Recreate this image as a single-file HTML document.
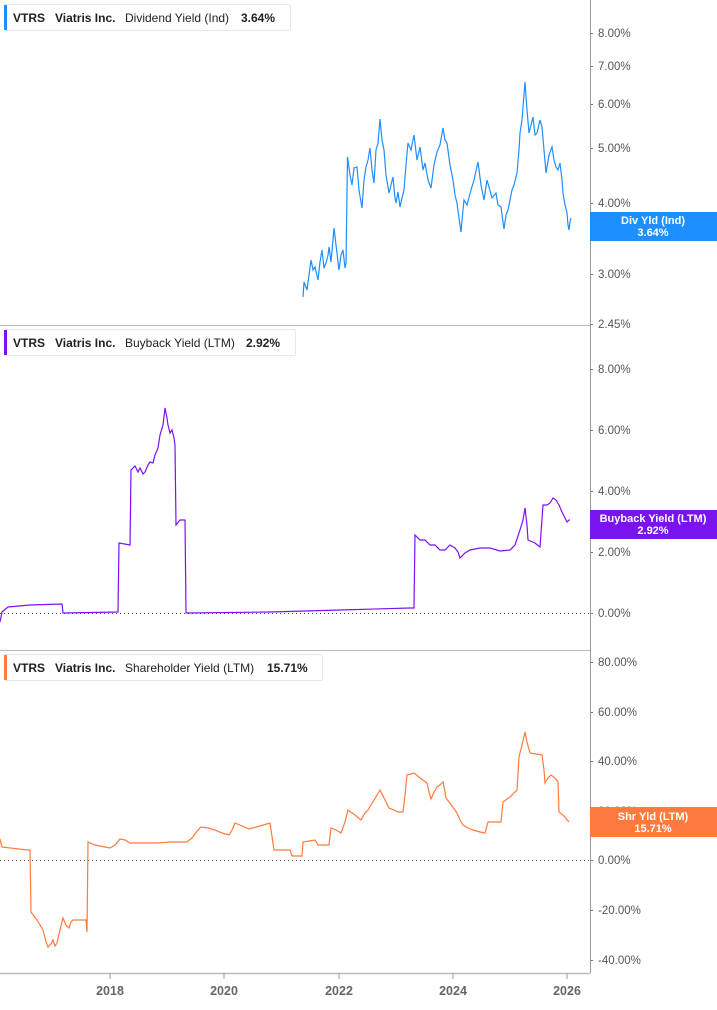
<!DOCTYPE html>
<html><head><meta charset="utf-8"><style>
body{margin:0;background:#fff;font-family:"Liberation Sans",sans-serif}
svg text{font-family:"Liberation Sans",sans-serif}
.t{font-size:11.5px;fill:#555}
.lg{font-size:12px;font-weight:bold;fill:#222}
.ln{font-size:12px;fill:#222}
</style></head><body>
<svg width="717" height="1005" viewBox="0 0 717 1005" xmlns="http://www.w3.org/2000/svg">
<rect width="717" height="1005" fill="#fff"/>
<line x1="590.5" y1="0" x2="590.5" y2="973" stroke="#999"/>
<line x1="0" y1="325.5" x2="590" y2="325.5" stroke="#bbb"/>
<line x1="0" y1="650.5" x2="590" y2="650.5" stroke="#bbb"/>
<line x1="0" y1="973.5" x2="590" y2="973.5" stroke="#bbb" stroke-width="1.5"/>
<line x1="0" y1="613.5" x2="590" y2="613.5" stroke="#555" stroke-dasharray="1,3"/>
<line x1="0" y1="860.5" x2="590" y2="860.5" stroke="#555" stroke-dasharray="1,3"/>
<g fill="#777">
<rect x="591" y="33" width="2" height="1"/><rect x="591" y="66" width="2" height="1"/><rect x="591" y="104" width="2" height="1"/><rect x="591" y="148" width="2" height="1"/><rect x="591" y="203" width="2" height="1"/><rect x="591" y="274" width="2" height="1"/><rect x="591" y="324" width="2" height="1"/>
<rect x="591" y="369" width="2" height="1"/><rect x="591" y="430" width="2" height="1"/><rect x="591" y="491" width="2" height="1"/><rect x="591" y="552" width="2" height="1"/><rect x="591" y="613" width="2" height="1"/>
<rect x="591" y="662" width="2" height="1"/><rect x="591" y="712" width="2" height="1"/><rect x="591" y="761" width="2" height="1"/><rect x="591" y="811" width="2" height="1"/><rect x="591" y="860" width="2" height="1"/><rect x="591" y="910" width="2" height="1"/><rect x="591" y="960" width="2" height="1"/>
</g>
<g class="t">
<text x="598" y="37">8.00%</text><text x="598" y="70">7.00%</text><text x="598" y="108">6.00%</text><text x="598" y="152">5.00%</text><text x="598" y="207">4.00%</text><text x="598" y="278">3.00%</text><text x="598" y="328">2.45%</text>
<text x="598" y="373">8.00%</text><text x="598" y="434">6.00%</text><text x="598" y="495">4.00%</text><text x="598" y="556">2.00%</text><text x="598" y="617">0.00%</text>
<text x="598" y="666">80.00%</text><text x="598" y="716">60.00%</text><text x="598" y="765">40.00%</text><text x="598" y="815">20.00%</text><text x="598" y="864">0.00%</text><text x="598" y="914">-20.00%</text><text x="598" y="964">-40.00%</text>
</g>
<g stroke="#999"><line x1="110" y1="973" x2="110" y2="979"/><line x1="224" y1="973" x2="224" y2="979"/><line x1="339" y1="973" x2="339" y2="979"/><line x1="453" y1="973" x2="453" y2="979"/><line x1="567" y1="973" x2="567" y2="979"/></g>
<g font-size="12.5" font-weight="bold" fill="#666" text-anchor="middle">
<text x="110" y="995">2018</text><text x="224" y="995">2020</text><text x="339" y="995">2022</text><text x="453" y="995">2024</text><text x="567" y="995">2026</text></g>
<polyline fill="none" stroke="#1e8fff" stroke-width="1.2" points="303,297 304,282 307,290 309,275 311,260 313,270 315,267 318,280 320,262 322,250 324,268 326,263 328,255 329,247 331,262 334,228 336,245 339,270 341,255 343,250 345,268 346,263 347.5,157 350,175 352,185 354,168 357,167 359,190 362,208 364,180 366,167 368,160 370,148 372,170 374,183 376,150 378,143 380,119 382,140 384,150 386,175 389,193 391,185 393,177 395,198 396,203 398,192 400,207 402,198 404,190 406,165 408,143 411,150 414,135 417,160 420,147 423,170 425,163 428,180 431,188 434,165 437,152 440,145 443,128 445,140 447,143 450,165 453,180 455,195 457,203 459,218 461,232 463,210 464,200 467,205 471,190 474,180 478,162 481,185 484,200 487,180 489,187 492,198 496,193 498,205 501,207 503,222 504,229 506,215 508,210 510,200 512,190 514,185 517,173 519,150 520,133 522,120 525,82 527,110 529,133 531,125 533,117 535,135 537,133 540,120 542,127 544,150 546,173 549,155 552,147 554,160 556,167 558,170 560,163 562,180 563,193 565,205 567,213 568,225 569,230 570,222 571,218"/>
<polyline fill="none" stroke="#7b12f0" stroke-width="1.2" points="0,622 2,612 8,607 30,605 62,604 63,613 118,612 119,543 130,545 131,470 135,466 138,472 140,468 143,474 145,472 148,465 150,462 153,463 155,455 158,448 160,435 163,425 165,408 167,418 168,425 170,433 172,430 174,438 175,445 176,525 180,520 185,520 186,613 270,612 340,610 410,608 414,608 415,535 420,540 425,540 430,545 435,545 440,550 445,550 450,545 455,548 458,552 460,558 465,553 470,550 480,548 490,548 500,551 510,550 515,545 520,530 523,520 525,508 527,525 528,540 535,543 540,547 543,505 547,505 550,503 553,498 556,500 559,505 562,512 565,518 567,522 569,520 570,520"/>
<polyline fill="none" stroke="#ff7a3c" stroke-width="1.2" points="0,839 2,847 27,850 30,850 31,912 37,920 40,925 43,930 46,942 48,947 51,944 53,940 55,946 57,943 60,930 63,918 66,925 69,928 71,922 73,920 86,920 87,932 88,842 95,845 110,848 115,845 120,839 125,840 130,843 145,843 158,843 170,842 187,842 192,838 198,830 201,827 208,828 215,830 222,833 229,835 232,830 235,823 242,826 249,829 260,826 270,823 274,850 290,850 292,856 302,856 303,842 315,840 318,845 329,845 331,828 336,830 341,833 345,822 348,810 355,815 361,820 365,813 368,810 374,800 380,790 385,800 389,808 394,810 398,812 403,812 405,795 407,775 411,774 414,773 420,778 427,783 429,792 431,799 434,792 437,787 440,785 443,782 445,792 446,798 452,806 457,813 460,820 463,825 468,828 473,830 480,832 485,833 488,822 495,822 501,822 503,802 510,797 517,790 519,757 522,745 525,732 527,742 530,753 536,754 542,755 544,770 545,783 548,778 551,775 555,778 558,782 559,812 564,816 569,822"/>
<rect x="590" y="212" width="127" height="29" fill="#1e8fff"/>
<text x="653" y="224" text-anchor="middle" font-size="11" font-weight="bold" fill="#fff">Div Yld (Ind)</text>
<text x="653" y="236" text-anchor="middle" font-size="11" font-weight="bold" fill="#fff">3.64%</text>
<rect x="590" y="510" width="127" height="29" fill="#7b12f0"/>
<text x="653" y="522" text-anchor="middle" font-size="11" font-weight="bold" fill="#fff">Buyback Yield (LTM)</text>
<text x="653" y="534" text-anchor="middle" font-size="11" font-weight="bold" fill="#fff">2.92%</text>
<rect x="590" y="807" width="127" height="30" fill="#ff7a3c"/>
<text x="653" y="820" text-anchor="middle" font-size="11" font-weight="bold" fill="#fff">Shr Yld (LTM)</text>
<text x="653" y="832" text-anchor="middle" font-size="11" font-weight="bold" fill="#fff">15.71%</text>

<rect x="4.5" y="4.5" width="286" height="26" rx="2" fill="#fff" stroke="#e6e6e6"/>
<rect x="4" y="5" width="3" height="25" fill="#1e8fff"/>
<text class="lg" x="13" y="22">VTRS</text><text class="lg" x="55" y="22">Viatris Inc.</text><text class="ln" x="125" y="22">Dividend Yield (Ind)</text><text class="lg" x="241" y="22">3.64%</text>

<rect x="4.5" y="329.5" width="291" height="26" rx="2" fill="#fff" stroke="#e6e6e6"/>
<rect x="4" y="330" width="3" height="25" fill="#7b12f0"/>
<text class="lg" x="13" y="347">VTRS</text><text class="lg" x="55" y="347">Viatris Inc.</text><text class="ln" x="125" y="347">Buyback Yield (LTM)</text><text class="lg" x="246" y="347">2.92%</text>

<rect x="4.5" y="654.5" width="318" height="26" rx="2" fill="#fff" stroke="#e6e6e6"/>
<rect x="4" y="655" width="3" height="25" fill="#ff7a3c"/>
<text class="lg" x="13" y="672">VTRS</text><text class="lg" x="55" y="672">Viatris Inc.</text><text class="ln" x="125" y="672">Shareholder Yield (LTM)</text><text class="lg" x="267" y="672">15.71%</text>
</svg>
</body></html>
